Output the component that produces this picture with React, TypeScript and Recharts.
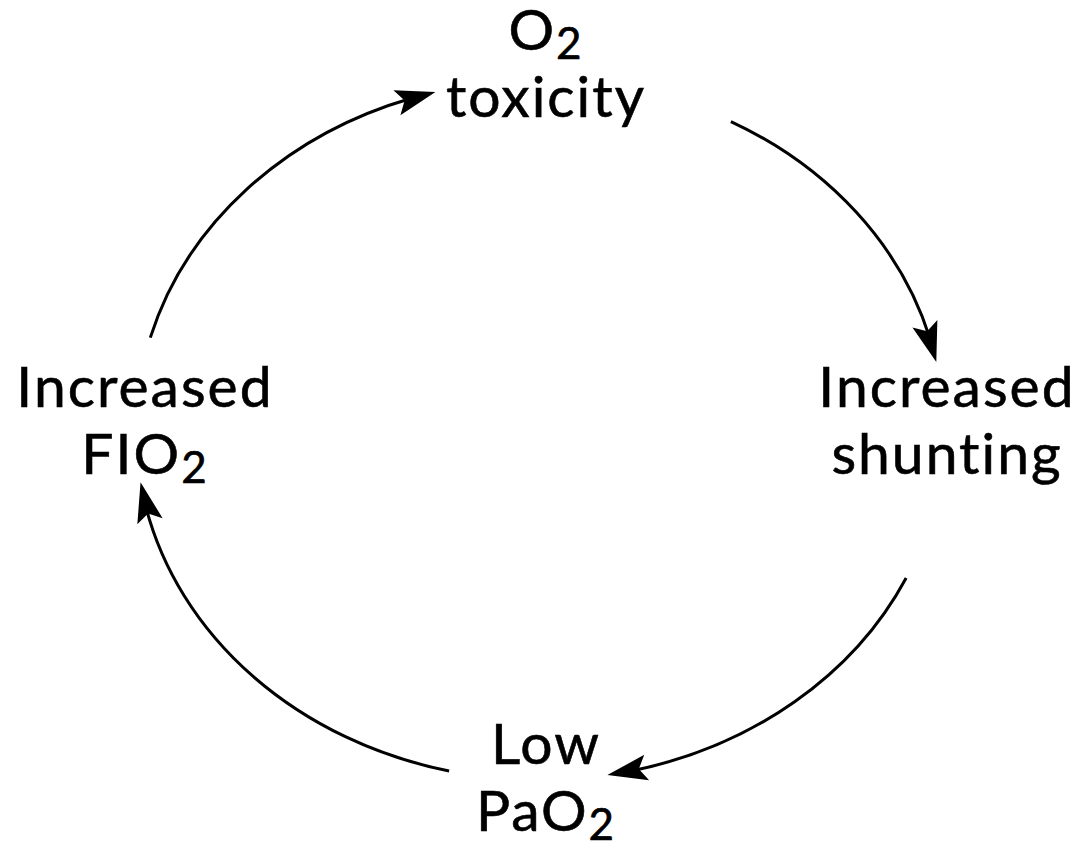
import { PieChart, Pie } from 'recharts';

// the four states of the cycle, clockwise from the top
const NODE_LINES: string[][] = [
  ['O2', 'toxicity'],
  ['Increased', 'shunting'],
  ['Low', 'PaO2'],
  ['Increased', 'FIO2'],
];

// angular size (deg) of the empty gap around each state, where its label sits
const GAP_SPAN = [43.2, 36.2, 22.6, 23.9];
// angular size (deg) of the arrow leaving each state towards the next one
const ARROW_SPAN = [50.6, 55.4, 68.4, 59.7];
// angle where the first gap (above "O2 toxicity") begins
const START_ANGLE = 105;

const ringData = NODE_LINES.flatMap((lines, i) => [
  { name: `${lines.join(' ')} gap`, kind: 'gap', value: GAP_SPAN[i] },
  { name: `${lines.join(' ')} arrow`, kind: 'arrow', value: ARROW_SPAN[i] },
]);
const nodeData = NODE_LINES.map((lines) => ({ name: lines.join(' '), value: 1 }));

const RING_RATIO = 350 / 404; // the cycle is a slightly flattened ellipse
const TEXT_RATIO = 357 / 401;
const RAD = Math.PI / 180;
const FONT = 'Lato, "Open Sans", sans-serif';

function ellipsePoint(cx: number, cy: number, rx: number, ry: number, deg: number) {
  return [cx + rx * Math.cos(deg * RAD), cy - ry * Math.sin(deg * RAD)];
}

function ArrowLabel(props: any) {
  const { cx, cy, outerRadius, startAngle, endAngle } = props;
  const kind = props.payload?.kind ?? props.kind;
  if (kind !== 'arrow') return <g />;
  const rx = outerRadius;
  const ry = outerRadius * RING_RATIO;
  const headLen = 40;
  const headHalf = 13;
  const t = endAngle * RAD;
  const speed = Math.sqrt((rx * Math.sin(t)) ** 2 + (ry * Math.cos(t)) ** 2);
  const delta = headLen / speed / RAD;
  const [sx, sy] = ellipsePoint(cx, cy, rx, ry, startAngle);
  const [lx, ly] = ellipsePoint(cx, cy, rx, ry, endAngle + delta * 0.6);
  const [tx, ty] = ellipsePoint(cx, cy, rx, ry, endAngle);
  const [bx, by] = ellipsePoint(cx, cy, rx, ry, endAngle + delta);
  const len = Math.hypot(tx - bx, ty - by);
  const ux = (tx - bx) / len;
  const uy = (ty - by) / len;
  const nx = -uy;
  const ny = ux;
  const head = [
    [tx, ty],
    [tx - headLen * ux + headHalf * nx, ty - headLen * uy + headHalf * ny],
    [tx - (headLen - 8) * ux, ty - (headLen - 8) * uy],
    [tx - headLen * ux - headHalf * nx, ty - headLen * uy - headHalf * ny],
  ]
    .map((p) => p.join(','))
    .join(' ');
  return (
    <g>
      <path
        d={`M${sx},${sy} A${rx},${ry} 0 0 1 ${lx},${ly}`}
        fill="none"
        stroke="#000"
        strokeWidth={3}
      />
      <polygon points={head} fill="#000" />
    </g>
  );
}

function renderLine(text: string, x: number, y: number, key: number) {
  const m = text.match(/^(.*O)2$/);
  if (!m) {
    return (
      <tspan key={key} x={x} y={y}>
        {text}
      </tspan>
    );
  }
  return (
    <tspan key={key} x={x} y={y}>
      {m[1]}
      <tspan fontSize={44} dy={9}>
        2
      </tspan>
    </tspan>
  );
}

function NodeLabel(props: any) {
  const { cx, cy, outerRadius, midAngle, index } = props;
  const [x, y] = ellipsePoint(cx, cy, outerRadius, outerRadius * TEXT_RATIO, midAngle);
  const lines = NODE_LINES[index];
  return (
    <text
      textAnchor="middle"
      fontFamily={FONT}
      fontSize={57}
      letterSpacing={2}
      fill="#000"
      stroke="#000"
      strokeWidth={0.6}
    >
      {lines.map((ln, i) => renderLine(ln, x, i === 0 ? y - 13 : y + 54, i))}
    </text>
  );
}

export default function App() {
  return (
    <div style={{ position: 'absolute', left: 0, top: 0, width: 1080, height: 842, background: '#fff' }}>
      <PieChart width={1080} height={842} margin={{ top: 0, right: 0, bottom: 0, left: 0 }}>
        <Pie
          data={ringData}
          dataKey="value"
          nameKey="name"
          cx={540}
          cy={430}
          innerRadius={0}
          outerRadius={404}
          startAngle={START_ANGLE}
          endAngle={START_ANGLE - 360}
          fill="none"
          stroke="none"
          labelLine={false}
          label={ArrowLabel}
          isAnimationActive={false}
        />
        <Pie
          data={nodeData}
          dataKey="value"
          nameKey="name"
          cx={546}
          cy={420}
          innerRadius={0}
          outerRadius={401}
          startAngle={135}
          endAngle={-225}
          fill="none"
          stroke="none"
          labelLine={false}
          label={NodeLabel}
          isAnimationActive={false}
        />
      </PieChart>
    </div>
  );
}
